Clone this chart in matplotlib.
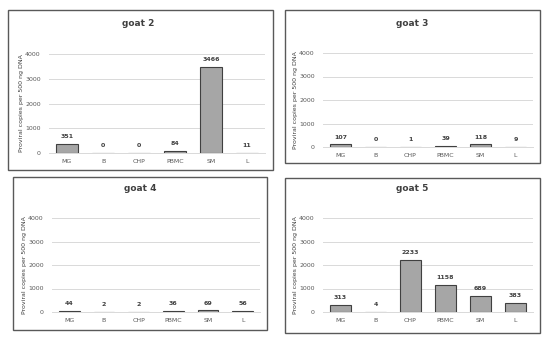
import numpy as np
import matplotlib.pyplot as plt
from matplotlib.patches import Rectangle

tissues = ["MG", "B", "CHP", "PBMC", "SM", "L"]
goat2 = [351, 0, 0, 84, 3466, 11]
goat3 = [107, 0, 1, 39, 118, 9]
goat4 = [44, 2, 2, 36, 69, 56]
goat5 = [313, 4, 2233, 1158, 689, 383]
yticks = [0, 1000, 2000, 3000, 4000]

W, H = 550, 337
fig = plt.figure(figsize=(5.5, 3.37), dpi=100)

# (title, values, box px (x0,y0,x1,y1), axes px (left,right,bottom,top), title px (x,y))
panels = [
    ("goat 2", goat2, (8, 10, 273, 170), (49, 265, 153, 54), (138, 24)),
    ("goat 3", goat3, (285, 10, 540, 163), (323, 533, 147, 53), (412, 23)),
    ("goat 4", goat4, (13, 177, 267, 330), (52, 260, 312, 218), (140, 188)),
    ("goat 5", goat5, (285, 178, 540, 333), (323, 533, 312, 218), (412, 188)),
]

for title, vals, box, axp, tp in panels:
    x0, y0, x1, y1 = box
    fig.patches.append(Rectangle((x0 / W, 1 - y1 / H), (x1 - x0) / W, (y1 - y0) / H,
                                 transform=fig.transFigure, fill=False,
                                 edgecolor='#595959', linewidth=1.0))
    l, r, b, t = axp
    ax = fig.add_axes([l / W, 1 - b / H, (r - l) / W, (b - t) / H])
    x = np.arange(len(tissues))
    ax.bar(x, vals, width=0.6, color='#a6a6a6', edgecolor='#404040', linewidth=0.8, zorder=3)
    for xi, v in zip(x, vals):
        ax.text(xi, v + 200, str(v), ha='center', va='bottom', fontsize=4.5,
                fontweight='bold', color='#404040')
    ax.set_xlim(-0.5, len(tissues) - 0.5)
    ax.set_ylim(0, 4000)
    ax.set_yticks(yticks)
    ax.set_yticklabels([str(v) for v in yticks])
    ax.set_xticks(x)
    ax.set_xticklabels(tissues)
    ax.tick_params(axis='both', length=0, labelsize=4.5, labelcolor='#595959')
    ax.tick_params(axis='x', pad=4)
    ax.tick_params(axis='y', pad=6)
    ax.grid(axis='y', color='#d9d9d9', linewidth=0.7, zorder=0)
    for s in ['top', 'right', 'left']:
        ax.spines[s].set_visible(False)
    ax.spines['bottom'].set_color('#d9d9d9')
    ax.spines['bottom'].set_linewidth(0.7)
    ax.set_ylabel("Proviral copies per 500 ng DNA", fontsize=4.5, color='#404040')
    ax.yaxis.set_label_coords(-25 / (r - l), 0.5)
    ax.patch.set_alpha(0)
    fig.text(tp[0] / W, 1 - tp[1] / H, title, ha='center', va='center',
             fontsize=6.5, fontweight='bold', color='#404040')

plt.savefig("out.png", dpi=100)
